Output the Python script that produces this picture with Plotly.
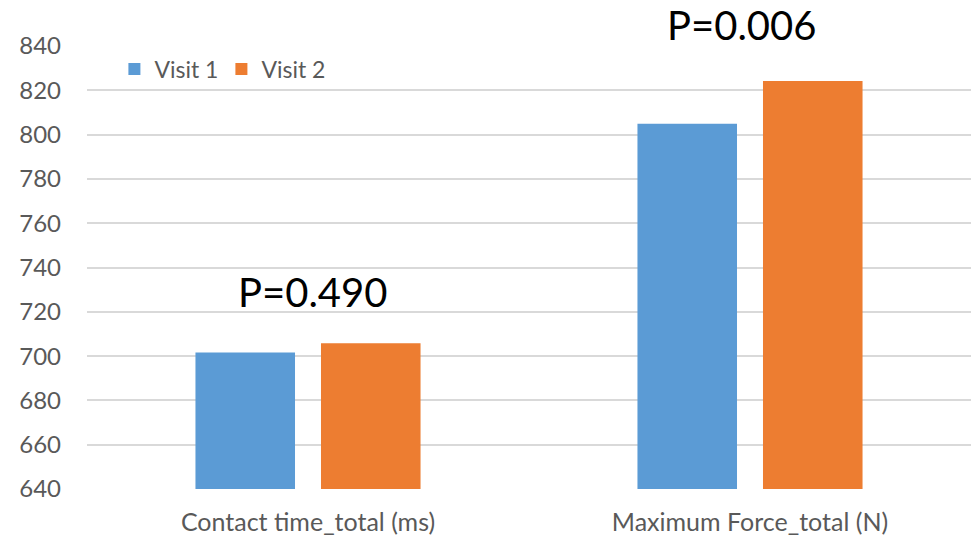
import plotly.graph_objects as go

categories = ["Contact time_total (ms)", "Maximum Force_total (N)"]
visit1 = [701.6, 804.9]
visit2 = [705.8, 824.2]
p_labels = ["P=0.490", "P=0.006"]
y_ticks = list(range(640, 841, 20))

FONT = "Lato"
TEXT = "#595959"

fig = go.Figure()
fig.add_trace(go.Bar(name="Visit 1", x=categories, y=visit1,
                     marker=dict(color="#5B9BD5", line=dict(width=0))))
fig.add_trace(go.Bar(name="Visit 2", x=categories, y=visit2,
                     marker=dict(color="#ED7D31", line=dict(width=0))))

# p-value labels above each group (paper y so they may sit above the plot area)
for cat, lab, py, dx in zip(categories, p_labels, [0.445, 1.047], [4, -9]):
    fig.add_annotation(x=cat, y=py, xref="x", yref="paper", text=lab,
                       showarrow=False, xshift=dx, yanchor="middle",
                       font=dict(family=FONT, size=40, color="#000000"))

fig.update_layout(
    width=974, height=536,
    margin=dict(l=87, r=3, t=46, b=47),
    paper_bgcolor="white", plot_bgcolor="white",
    barmode="group", bargap=0.432, bargroupgap=0.207,
    font=dict(family=FONT, size=23, color=TEXT),
    showlegend=True,
    legend=dict(orientation="h", x=0.031, y=0.948, xanchor="left",
                yanchor="middle", bgcolor="rgba(0,0,0,0)",
                font=dict(family=FONT, size=23, color=TEXT),
                entrywidth=62, traceorder="normal"),
    xaxis=dict(showgrid=False, showline=False, ticks="", automargin=False,
               ticklabelstandoff=16,
               tickfont=dict(family=FONT, size=25, color=TEXT)),
    yaxis=dict(range=[640, 840], tickvals=y_ticks, showgrid=True,
               gridcolor="#D9D9D9", gridwidth=2, zeroline=False,
               showline=False, ticks="", ticklabelstandoff=25,
               automargin=False,
               tickfont=dict(family=FONT, size=24, color=TEXT)),
)

fig.write_html("out.html")
